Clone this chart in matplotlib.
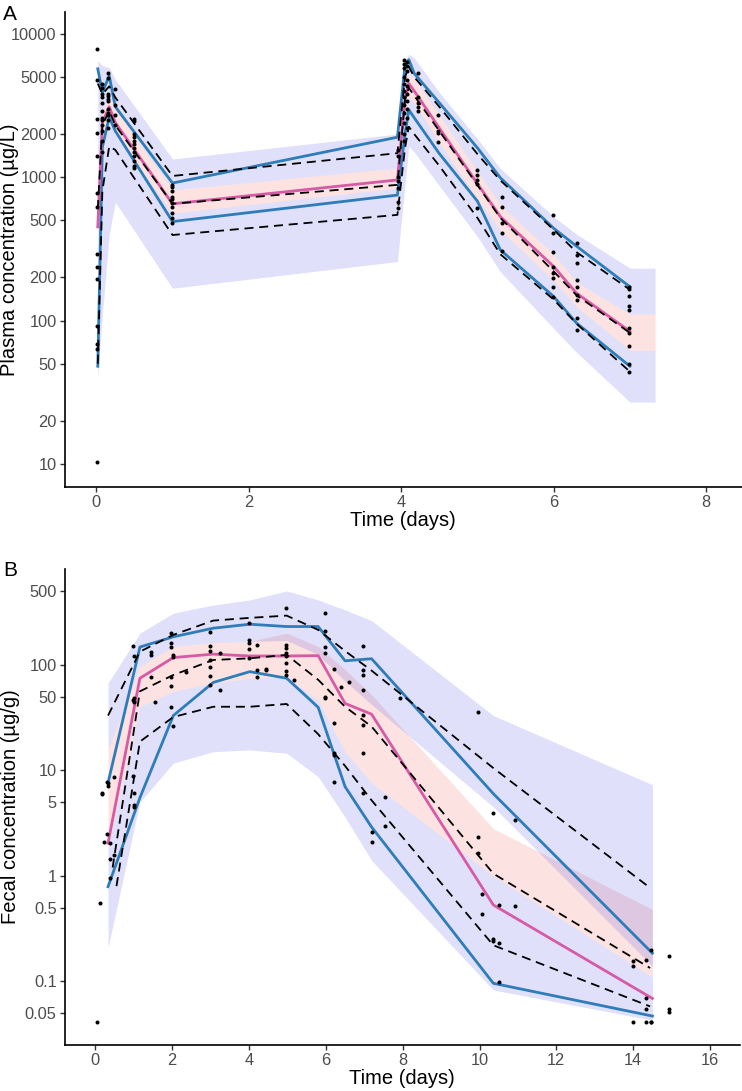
import numpy as np
import matplotlib
matplotlib.use("Agg")
import matplotlib.pyplot as plt
from matplotlib.ticker import FixedLocator, NullLocator, FixedFormatter

plt.rcParams['font.family'] = ['Liberation Sans', 'DejaVu Sans']

# cores
COR_AZUL = "#2E7DB8"
COR_MAGENTA = "#D65AA6"
FILL_AZUL = (48 / 255, 48 / 255, 222 / 255)
FILL_ROSA = (242 / 255, 62 / 255, 62 / 255)

# ---------------- Painel A: plasma ----------------
tA_line = [0.02, 0.08, 0.17, 0.25, 1.0, 3.95, 4.05, 4.1, 4.17, 4.5, 5.0, 5.3, 6.0, 6.3, 7.0]
A_blue_hi = [5700, 3900, 5100, 3100, 910, 1900, 6000, 6600, 5300, 3300, 1600, 990, 440, 330, 172]
A_blue_lo = [48, 1620, 2630, 2100, 490, 750, 2000, 2950, 2600, 1460, 680, 311, 147, 96, 48]
A_median = [450, 2400, 3100, 2400, 652, 957, 3500, 4500, 4000, 2200, 900, 531, 238, 155, 84]
A_dash_hi = [4500, 3800, 4300, 3600, 1020, 1470, 5000, 5900, 5000, 3100, 1450, 950, 430, 300, 164]
A_dash_mid = [600, 2300, 2900, 2300, 652, 884, 3500, 4200, 3700, 2100, 880, 520, 220, 150, 82]
A_dash_lo = [50, 800, 1640, 1550, 395, 546, 1600, 2250, 2000, 1200, 520, 290, 140, 95, 44]

tA_band = [0.02, 0.08, 0.17, 0.25, 1.0, 3.95, 4.05, 4.1, 4.17, 4.5, 5.0, 5.3, 6.0, 6.3, 7.0, 7.33]
A_lo5 = [40, 110, 400, 670, 168, 258, 900, 1640, 1500, 870, 385, 219, 88, 60, 27, 27]
A_lo50 = [350, 1800, 2500, 2000, 562, 840, 2900, 3700, 3300, 1750, 700, 430, 190, 125, 62, 62]
A_hi50 = [600, 2800, 3700, 3000, 815, 1160, 4000, 5400, 4900, 2700, 1100, 640, 290, 185, 111, 111]
A_lo95 = [600, 2800, 3700, 3000, 815, 1160, 4000, 5400, 4900, 2700, 1100, 640, 290, 185, 111, 111]
A_hi95 = [6500, 6000, 5800, 4800, 1340, 2000, 6500, 7200, 6800, 3900, 1850, 1150, 530, 400, 232, 232]

obsA_time = [0.01, 0.07, 0.15, 0.25, 0.5, 1.0, 3.96, 4.03, 4.08, 4.22, 4.48, 4.99, 5.32, 5.99, 6.31, 6.99]
obsA_conc = [
    [7800, 10.3, 290, 238, 195, 92, 69, 63, 620, 775, 2040, 2560, 4770, 1400],
    [4500, 4200, 3800, 3600, 3300, 2900, 2600, 2500, 2300, 2100, 1800, 1500],
    [5300, 4900, 3800, 3700, 3500, 3400, 3000, 2800, 2700, 2500, 2200],
    [4100, 3200, 2700, 2300],
    [2550, 2450, 2000, 1900, 1800, 1700, 1600, 1500, 1400, 1300, 1200, 1150],
    [884, 860, 800, 733, 700, 660, 615, 562, 518, 480],
    [1550, 1400, 1000, 940, 840, 675, 605],
    [6600, 6200, 5800, 5000, 4500, 4000, 3600, 3200, 2800, 2400, 2000, 1800],
    [6400, 6000, 5500, 4800, 4300, 3800, 3400, 3000, 2600, 2200],
    [5350, 3600, 3300, 3100, 2900],
    [2720, 2100, 2030, 1770],
    [1120, 1040, 960, 890, 610],
    [733, 624, 480, 408, 305],
    [545, 408, 303, 236, 213, 197, 172, 147],
    [347, 287, 254, 192, 171, 151, 139, 105, 86],
    [172, 165, 148, 126, 119, 89, 82, 66, 50, 44],
]

# ---------------- Painel B: fezes ----------------
tB_line = [0.33, 1.16, 2.03, 3.07, 4.02, 4.98, 5.8, 6.5, 7.19, 10.36, 14.5]
B_blue_hi = [7.6, 147, 184, 222, 242, 230, 230, 109, 114, 6.0, 0.185]
B_blue_lo = [0.79, 5.5, 33, 68, 86, 74.5, 39.5, 7.0, 2.9, 0.096, 0.047]
B_median = [2.04, 74.5, 117, 126, 121, 121, 122, 43, 34, 0.53, 0.069]

tB_dash_hi = [0.33, 1.16, 2.03, 3.07, 4.02, 4.98, 5.8, 6.5, 7.19, 10.36, 14.44]
B_dash_hi = [33, 133, 192, 262, 278, 292, 214, 135, 88, 10.5, 0.77]
tB_dash_mid = [0.45, 1.16, 2.03, 3.07, 4.02, 4.98, 5.8, 6.5, 7.19, 10.36, 14.44]
B_dash_mid = [1.2, 56, 80, 111, 115, 124, 72, 40, 26, 1.05, 0.134]
tB_dash_lo = [0.55, 1.16, 2.03, 3.07, 4.02, 4.98, 5.8, 6.5, 7.19, 10.36, 14.44]
B_dash_lo = [0.8, 18.7, 32, 40, 40, 42.5, 22, 11, 5.2, 0.22, 0.058]

tB_band = [0.33, 1.16, 2.03, 3.07, 4.02, 4.98, 5.8, 6.5, 7.19, 10.36, 14.5]
B_lo5 = [0.21, 5, 11.7, 15, 15.6, 14.5, 8.7, 3.6, 1.4, 0.083, 0.043]
B_lo50 = [1.8, 40, 56, 67, 74.5, 77, 46, 15, 7.6, 1.0, 0.11]
B_hi50 = [15.6, 96, 149, 162, 166, 199, 149, 90, 52, 2.8, 0.48]
B_lo95 = [15.6, 96, 149, 162, 166, 170, 125, 70, 42, 4.5, 0.14]
B_hi95 = [67, 199, 308, 368, 411, 500, 411, 330, 262, 33, 7.3]

obsB_time = [0.03, 0.12, 0.17, 0.23, 0.3, 0.34, 0.38, 0.48, 0.99, 1.01, 1.45, 1.55,
             1.97, 2.02, 2.36, 2.99, 3.24, 3.99, 4.2, 4.45, 4.95, 5.17, 5.97,
             6.22, 6.4, 6.6, 6.96, 7.2, 7.53, 7.93, 9.95, 10.07, 10.35, 10.5,
             10.93, 13.99, 14.33, 14.47, 14.92]
obsB_conc = [
    [0.041], [0.55], [6.1, 6.0], [2.09], [7.7, 2.5], [7.5, 7.1], [2.04, 1.44, 0.95], [1.58, 8.7],
    [149, 46, 8.9], [122, 48, 44, 6.1, 4.5, 4.7], [133, 124, 77], [44],
    [199, 160, 148, 77, 63, 40], [124, 119, 26], [86],
    [204, 151, 136, 111, 95, 79, 64], [58, 129],
    [251, 172, 162, 140, 117], [154, 89, 77], [89, 91],
    [348, 154, 145, 128, 120, 103, 88, 80], [72],
    [308, 210, 148, 129, 50, 48],
    [91, 28, 14.7, 7.8, 14], [61], [69],
    [151, 89, 80, 58, 33.5, 14.5, 27, 6.1], [2.6, 2.1], [3.0, 5.6], [48],
    [36, 2.35, 1.66], [0.67, 0.44], [3.9, 0.25, 0.24], [0.53, 0.23, 0.098],
    [3.4, 0.52],
    [0.155, 0.14, 0.041], [0.16, 0.07, 0.055, 0.041], [0.2, 0.041, 0.041], [0.175, 0.055, 0.051],
]


def ribbons(ax, t, lo5, lo50, hi50, lo95, hi95):
    ax.fill_between(t, lo50, hi50, color=FILL_ROSA, alpha=0.15, linewidth=0, zorder=1)
    ax.fill_between(t, lo5, lo50, color=FILL_AZUL, alpha=0.15, linewidth=0, zorder=1)
    ax.fill_between(t, lo95, hi95, color=FILL_AZUL, alpha=0.15, linewidth=0, zorder=1)


def pontos(ax, tempos, grupos):
    xs, ys = [], []
    for t, vals in zip(tempos, grupos):
        xs += [t] * len(vals)
        ys += vals
    ax.plot(xs, ys, "o", color="black", markersize=2.9, markeredgewidth=0, zorder=6)


def estilo(ax, yticks, ylabels, xticks, xlim, ylim):
    ax.set_yscale("log")
    ax.set_xlim(*xlim)
    ax.set_ylim(*ylim)
    ax.yaxis.set_major_locator(FixedLocator(yticks))
    ax.yaxis.set_major_formatter(FixedFormatter(ylabels))
    ax.yaxis.set_minor_locator(NullLocator())
    ax.set_xticks(xticks)
    ax.set_xticklabels([str(x) for x in xticks])
    for s in ["top", "right"]:
        ax.spines[s].set_visible(False)
    for s in ["left", "bottom"]:
        ax.spines[s].set_linewidth(1.2)
    ax.tick_params(axis="both", length=3.5, width=1.0, pad=2.5,
                   labelsize=11.8, labelcolor="#4D4D4D", color="#333333")


DASH = (0, (5.0, 3.2))

fig = plt.figure(figsize=(7.42, 10.91), dpi=100)
axA = fig.add_axes([65 / 742, 1 - 487 / 1091, 677 / 742, 475 / 1091])
axB = fig.add_axes([65 / 742, 1 - 1045 / 1091, 675 / 742, 476 / 1091])

# painel A
ribbons(axA, tA_band, A_lo5, A_lo50, A_hi50, A_lo95, A_hi95)
axA.plot(tA_line, A_blue_hi, color=COR_AZUL, lw=2.0, zorder=3)
axA.plot(tA_line, A_blue_lo, color=COR_AZUL, lw=2.0, zorder=3)
axA.plot(tA_line, A_median, color=COR_MAGENTA, lw=2.0, zorder=3)
for serie in (A_dash_hi, A_dash_mid, A_dash_lo):
    axA.plot(tA_line, serie, color="black", lw=1.3, linestyle=DASH, zorder=4)
pontos(axA, obsA_time, obsA_conc)
estilo(axA, [10, 20, 50, 100, 200, 500, 1000, 2000, 5000, 10000],
       ["10", "20", "50", "100", "200", "500", "1000", "2000", "5000", "10000"],
       [0, 2, 4, 6, 8], (-0.41, 8.47), (6.9, 14200))

# painel B
ribbons(axB, tB_band, B_lo5, B_lo50, B_hi50, B_lo95, B_hi95)
axB.plot(tB_line, B_blue_hi, color=COR_AZUL, lw=2.0, zorder=3)
axB.plot(tB_line, B_blue_lo, color=COR_AZUL, lw=2.0, zorder=3)
axB.plot(tB_line, B_median, color=COR_MAGENTA, lw=2.0, zorder=3)
axB.plot(tB_dash_hi, B_dash_hi, color="black", lw=1.3, linestyle=DASH, zorder=4)
axB.plot(tB_dash_mid, B_dash_mid, color="black", lw=1.3, linestyle=DASH, zorder=4)
axB.plot(tB_dash_lo, B_dash_lo, color="black", lw=1.3, linestyle=DASH, zorder=4)
pontos(axB, obsB_time, obsB_conc)
estilo(axB, [0.05, 0.1, 0.5, 1, 5, 10, 50, 100, 500],
       ["0.05", "0.1", "0.5", "1", "5", "10", "50", "100", "500"],
       list(range(0, 17, 2)), (-0.79, 16.78), (0.025, 807))

# titulos
fig.text(403 / 742, 1 - 521 / 1091, "Time (days)", ha="center", va="center", fontsize=14.5)
fig.text(402 / 742, 1 - 1078 / 1091, "Time (days)", ha="center", va="center", fontsize=14.5)
fig.text(10 / 742, 1 - 250 / 1091, "Plasma concentration (µg/L)", ha="center", va="center",
         rotation=90, fontsize=14.5)
fig.text(11 / 742, 1 - 807 / 1091, "Fecal concentration (µg/g)", ha="center", va="center",
         rotation=90, fontsize=14.5)
fig.text(3 / 742, 1 - 14 / 1091, "A", ha="left", va="center", fontsize=15)
fig.text(3 / 742, 1 - 571 / 1091, "B", ha="left", va="center", fontsize=15)

fig.savefig("out.png", dpi=100)
